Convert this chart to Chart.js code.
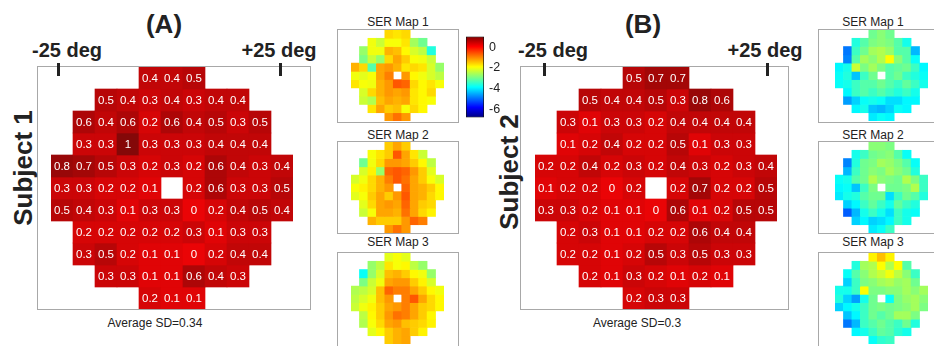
<!DOCTYPE html>
<html>
<head>
<meta charset="utf-8">
<script src="https://cdn.jsdelivr.net/npm/chart.js@4.4.0/dist/chart.umd.min.js"></script>
<style>
  body { margin: 0; width: 934px; height: 346px; overflow: hidden; position: relative; background: #fff;
         font-family: "Liberation Sans", Arial, sans-serif; color: #222; }
  canvas { position: absolute; }
  .frame { position: absolute; border: 1px solid #a8a8a8; box-sizing: border-box; }
  .tick { position: absolute; width: 3px; height: 13px; background: #222; }
  .txt { position: absolute; white-space: nowrap; line-height: 1; transform: translateX(-50%); }
  .big { font-weight: bold; font-size: 20px; }
  .panel { font-weight: bold; font-size: 26px; }
  .small { font-size: 12px; }
  .subj { position: absolute; white-space: nowrap; line-height: 1; font-weight: bold; font-size: 26px;
          transform: translate(-50%, -50%) rotate(-90deg); }
</style>
</head>
<body>

<div class="txt panel" style="left:164px;top:11px">(A)</div>
<div class="txt panel" style="left:643px;top:11px">(B)</div>

<div class="txt big" style="left:67px;top:40px">-25 deg</div>
<div class="txt big" style="left:279px;top:40px">+25 deg</div>
<div class="txt big" style="left:553px;top:40px">-25 deg</div>
<div class="txt big" style="left:765px;top:40px">+25 deg</div>

<div class="frame" style="left:37px;top:66px;width:274px;height:244px"></div>
<div class="frame" style="left:520px;top:66px;width:269px;height:244px"></div>

<div class="subj" style="left:23px;top:168px">Subject 1</div>
<div class="subj" style="left:509px;top:172px">Subject 2</div>

<div class="txt small" style="left:155px;top:317px">Average SD=0.34</div>
<div class="txt small" style="left:637px;top:317px">Average SD=0.3</div>

<div class="txt small" style="left:398px;top:16px">SER Map 1</div>
<div class="txt small" style="left:398px;top:129px">SER Map 2</div>
<div class="txt small" style="left:398px;top:236px">SER Map 3</div>
<div class="txt small" style="left:873px;top:16px">SER Map 1</div>
<div class="txt small" style="left:873px;top:129px">SER Map 2</div>
<div class="txt small" style="left:873px;top:236px">SER Map 3</div>

<div class="frame" style="left:337px;top:29px;width:122px;height:94px"></div>
<div class="frame" style="left:337px;top:141px;width:122px;height:93px"></div>
<div class="frame" style="left:337px;top:252px;width:122px;height:100px"></div>
<div class="frame" style="left:818px;top:29px;width:130px;height:94px"></div>
<div class="frame" style="left:818px;top:141px;width:130px;height:93px"></div>
<div class="frame" style="left:818px;top:252px;width:130px;height:100px"></div>

<canvas id="sd1" width="242" height="242" style="left:51px;top:67px"></canvas>
<canvas id="sd2" width="242" height="242" style="left:535px;top:67px"></canvas>
<canvas id="serA1" width="93" height="91" style="left:351px;top:30px"></canvas>
<canvas id="serA2" width="93" height="91" style="left:351px;top:142px"></canvas>
<canvas id="serA3" width="93" height="91" style="left:351px;top:253px"></canvas>
<canvas id="serB1" width="93" height="91" style="left:835px;top:30px"></canvas>
<canvas id="serB2" width="93" height="91" style="left:835px;top:142px"></canvas>
<canvas id="serB3" width="93" height="91" style="left:835px;top:253px"></canvas>
<canvas id="cbar" width="46" height="106" style="left:466px;top:24px"></canvas>

<div class="tick" style="left:57px;top:63px"></div>
<div class="tick" style="left:279px;top:63px"></div>
<div class="tick" style="left:543px;top:63px"></div>
<div class="tick" style="left:766px;top:63px"></div>

<script>
// grid columns and the first visible column of each row (the field is round)
const COLS = ['1', '2', '3', '4', '5', '6', '7', '8', '9', '10', '11'];
const ROW_START = [4, 2, 1, 1, 0, 0, 0, 1, 1, 2, 4];

// SD of the three SER maps, per test location
const SD_SUBJECT1 = [
  [0.4, 0.4, 0.5],
  [0.5, 0.4, 0.3, 0.4, 0.3, 0.4, 0.4],
  [0.6, 0.4, 0.6, 0.2, 0.6, 0.4, 0.5, 0.3, 0.5],
  [0.3, 0.3, 1, 0.3, 0.3, 0.3, 0.4, 0.4, 0.4],
  [0.8, 0.7, 0.5, 0.3, 0.2, 0.3, 0.2, 0.6, 0.4, 0.3, 0.4],
  [0.3, 0.3, 0.2, 0.2, 0.1, null, 0.2, 0.6, 0.3, 0.3, 0.5],
  [0.5, 0.4, 0.3, 0.1, 0.3, 0.3, 0, 0.2, 0.4, 0.5, 0.4],
  [0.2, 0.2, 0.2, 0.2, 0.2, 0.3, 0.1, 0.3, 0.3],
  [0.3, 0.5, 0.2, 0.1, 0.1, 0, 0.2, 0.4, 0.4],
  [0.3, 0.3, 0.1, 0.1, 0.6, 0.4, 0.3],
  [0.2, 0.1, 0.1]
];
const SD_SUBJECT2 = [
  [0.5, 0.7, 0.7],
  [0.5, 0.4, 0.4, 0.5, 0.3, 0.8, 0.6],
  [0.3, 0.1, 0.3, 0.3, 0.2, 0.4, 0.4, 0.4, 0.4],
  [0.1, 0.2, 0.4, 0.2, 0.2, 0.5, 0.1, 0.3, 0.3],
  [0.2, 0.2, 0.4, 0.2, 0.3, 0.2, 0.4, 0.3, 0.2, 0.3, 0.4],
  [0.1, 0.2, 0.2, 0, 0.2, null, 0.2, 0.7, 0.2, 0.2, 0.5],
  [0.3, 0.3, 0.2, 0.1, 0.1, 0, 0.6, 0.1, 0.2, 0.5, 0.5],
  [0.2, 0.3, 0.1, 0.1, 0.2, 0.2, 0.6, 0.4, 0.4],
  [0.2, 0.2, 0.1, 0.2, 0.5, 0.3, 0.5, 0.3, 0.3],
  [0.2, 0.1, 0.3, 0.2, 0.1, 0.2, 0.1],
  [0.2, 0.3, 0.3]
];

// SER maps (D)
const SER_A1 = [
  [-1.6, -1.7, -1.6],
  [-2.0, -2.3, -1.95, -1.95, -1.7, -2.6, -3.0],
  [-2.7, -2.0, -2.0, -1.3, -1.4, -1.85, -2.2, -2.4, -3.6],
  [-2.9, -2.3, -2.7, -1.6, -1.2, -1.5, -1.95, -2.0, -2.3],
  [-1.3, -1.6, -3.2, -1.2, -1.1, -1.3, -1.7, -1.6, -1.7, -2.2, -2.7],
  [-2.0, -2.1, -1.95, -1.2, -0.9, null, -1.1, -1.85, -2.0, -2.2, -2.4],
  [-1.7, -1.95, -2.0, -1.3, -1.1, -0.6, -0.7, -1.6, -1.85, -1.7, -1.95],
  [-2.2, -1.6, -1.3, -1.1, -1.2, -1.1, -1.7, -1.85, -1.6],
  [-2.3, -2.5, -1.4, -1.2, -1.3, -1.2, -1.7, -1.85, -1.95],
  [-1.7, -1.2, -1.5, -1.4, -1.95, -1.6, -1.85],
  [-1.1, -0.8, -1.1]
];
const SER_A2 = [
  [-1.5, -1.2, -1.5],
  [-1.95, -1.7, -1.5, -0.6, -1.2, -1.7, -2.3],
  [-3.0, -2.0, -1.6, -1.1, -1.1, -1.2, -1.5, -1.85, -2.4],
  [-2.2, -1.8, -2.7, -0.7, -0.6, -0.7, -1.1, -1.5, -2.1],
  [-2.2, -2.0, -1.6, -1.3, -0.9, -0.6, -0.8, -1.2, -1.5, -1.95, -2.2],
  [-1.95, -1.8, -1.6, -1.3, -1.1, null, -0.7, -1.2, -1.3, -1.5, -1.85],
  [-2.1, -1.95, -1.5, -1.2, -1.5, -1.1, -0.6, -1.2, -1.3, -1.6, -1.85],
  [-2.1, -1.6, -1.2, -1.1, -1.2, -0.7, -1.2, -1.5, -1.6],
  [-2.3, -1.95, -1.2, -1.2, -1.3, -0.8, -1.2, -1.6, -1.8],
  [-1.3, -1.5, -1.5, -1.5, -1.1, -0.7, -0.9],
  [-1.1, -0.8, -1.1]
];
const SER_A3 = [
  [-2.1, -1.95, -2.1],
  [-2.7, -2.4, -1.7, -1.95, -1.85, -2.4, -2.7],
  [-3.8, -2.7, -2.2, -1.4, -1.3, -1.5, -1.85, -2.0, -2.7],
  [-2.9, -2.3, -2.0, -1.2, -1.1, -1.1, -1.5, -1.8, -2.2],
  [-2.5, -2.4, -2.2, -1.4, -0.7, -0.9, -0.9, -1.2, -1.5, -1.85, -2.0],
  [-2.4, -2.2, -2.0, -1.4, -1.1, null, -0.9, -0.6, -1.2, -1.6, -1.85],
  [-2.3, -2.0, -1.8, -1.5, -1.2, -1.1, -0.9, -1.2, -1.5, -1.6, -1.85],
  [-2.4, -1.85, -1.5, -1.1, -0.8, -0.9, -1.2, -1.5, -1.85],
  [-2.5, -1.95, -1.6, -1.2, -1.1, -1.4, -1.5, -1.6, -1.8],
  [-2.1, -1.85, -1.5, -1.3, -1.2, -1.5, -1.8],
  [-1.5, -1.3, -1.2]
];
const SER_B1 = [
  [-3.0, -2.8, -3.0],
  [-3.6, -3.2, -2.9, -2.8, -2.9, -3.2, -3.7],
  [-4.9, -3.4, -3.0, -2.6, -2.5, -2.7, -3.2, -3.2, -4.4],
  [-4.8, -3.2, -2.6, -2.8, -2.5, -1.9, -2.8, -3.2, -3.8],
  [-3.9, -3.7, -2.3, -2.9, -2.6, -2.9, -3.2, -3.1, -3.0, -3.4, -3.9],
  [-3.8, -3.6, -4.3, -3.4, -3.0, null, -3.2, -3.0, -3.4, -3.6, -3.8],
  [-3.8, -3.7, -3.4, -3.2, -3.2, -3.0, -3.2, -3.4, -3.1, -3.4, -3.7],
  [-3.9, -3.4, -3.2, -3.4, -3.2, -3.4, -3.6, -3.4, -3.7],
  [-4.6, -4.2, -3.8, -3.7, -3.8, -4.1, -4.1, -3.9, -3.9],
  [-3.9, -3.7, -4.3, -4.4, -4.2, -3.8, -3.9],
  [-4.0, -3.8, -3.9]
];
const SER_B2 = [
  [-2.8, -2.8, -2.9],
  [-3.7, -3.4, -3.0, -2.9, -2.8, -3.2, -3.8],
  [-4.8, -3.6, -3.0, -2.9, -2.6, -2.7, -2.9, -3.2, -3.8],
  [-4.4, -3.4, -3.0, -2.8, -2.9, -2.6, -2.8, -3.0, -3.6],
  [-3.8, -3.7, -3.2, -3.0, -2.5, -2.8, -2.9, -3.0, -2.5, -2.9, -3.4],
  [-3.9, -3.8, -4.3, -3.4, -2.9, null, -3.0, -3.0, -2.9, -2.5, -3.4],
  [-4.0, -3.7, -3.6, -3.2, -3.0, -3.0, -4.1, -3.4, -3.0, -3.2, -3.6],
  [-4.2, -3.9, -3.4, -3.1, -3.4, -3.7, -3.1, -3.4, -3.6],
  [-5.1, -4.4, -3.7, -3.4, -3.7, -4.1, -3.4, -3.7, -3.8],
  [-4.2, -3.9, -4.2, -4.1, -3.9, -3.4, -3.7],
  [-4.0, -3.8, -3.4]
];
const SER_B3 = [
  [-1.8, -1.4, -1.8],
  [-3.6, -2.6, -2.5, -1.9, -2.5, -1.9, -3.2],
  [-3.8, -3.2, -2.8, -2.5, -2.3, -2.0, -2.4, -2.8, -3.4],
  [-4.2, -3.4, -2.9, -2.8, -2.6, -2.5, -2.7, -2.6, -3.0],
  [-3.7, -3.7, -3.4, -1.9, -2.9, -2.9, -2.8, -2.8, -2.6, -2.8, -2.6],
  [-3.6, -4.2, -4.6, -3.7, -3.0, null, -3.8, -2.9, -2.7, -2.6, -2.8],
  [-4.2, -3.9, -3.7, -3.4, -3.0, -2.9, -3.0, -2.9, -2.8, -2.6, -2.9],
  [-4.3, -3.9, -3.4, -3.0, -3.2, -3.0, -2.6, -2.6, -2.9],
  [-4.9, -4.4, -3.4, -3.2, -3.0, -3.2, -3.4, -3.0, -3.6],
  [-3.9, -3.7, -3.4, -3.1, -3.2, -3.5, -3.7],
  [-3.8, -3.5, -3.4]
];

// colour bar
const CMIN = -6.8, CMAX = 1.05;
const CB_TICKS = [-6, -4, -2, 0];

const FONT = '"Liberation Sans", Arial, sans-serif';

function jet(v) {
  const t = Math.min(1, Math.max(0, (v - CMIN) / (CMAX - CMIN)));
  const f = x => Math.round(255 * Math.min(1, Math.max(0, 1.5 - Math.abs(x))));
  return 'rgb(' + f(4 * t - 3) + ',' + f(4 * t - 2) + ',' + f(4 * t - 1) + ')';
}

function sdColor(v) {
  return 'rgb(' + Math.round(234 - 102 * v) + ',' + Math.round(4 + 4 * v) + ',' + Math.round(6 + 2 * v) + ')';
}

// white numbers in the SD cells
const cellText = {
  id: 'cellText',
  afterDatasetsDraw(chart) {
    const ctx = chart.ctx;
    ctx.save();
    ctx.fillStyle = '#fff';
    ctx.font = '11.5px ' + FONT;
    ctx.textAlign = 'center';
    ctx.textBaseline = 'middle';
    chart.data.datasets.forEach((ds, i) => {
      chart.getDatasetMeta(i).data.forEach((bar, c) => {
        const v = ds.values[c];
        if (v === null || v === undefined) return;
        const p = bar.getCenterPoint();
        ctx.fillText(String(v), p.x, p.y + 1);
      });
    });
    ctx.restore();
  }
};

function gridChart(id, rows, colorFn, withText) {
  const datasets = rows.map((vals, r) => {
    const data = [], colors = [], values = [];
    COLS.forEach((_, c) => {
      const k = c - ROW_START[r];
      const v = (k >= 0 && k < vals.length) ? vals[k] : null;
      values.push(v);
      data.push(v === null ? null : [r, r + 1]);
      colors.push(v === null ? 'rgba(0,0,0,0)' : colorFn(v));
    });
    return {
      data: data, values: values, backgroundColor: colors,
      borderWidth: 0, barPercentage: 1, categoryPercentage: 1, grouped: false
    };
  });
  return new Chart(document.getElementById(id), {
    type: 'bar',
    data: { labels: COLS, datasets: datasets },
    options: {
      responsive: false, animation: false, events: [],
      layout: { padding: 0 },
      plugins: { legend: { display: false }, tooltip: { enabled: false } },
      scales: {
        x: { display: false },
        y: { display: false, min: 0, max: rows.length, reverse: true }
      }
    },
    plugins: withText ? [cellText] : []
  });
}

gridChart('sd1', SD_SUBJECT1, sdColor, true);
gridChart('sd2', SD_SUBJECT2, sdColor, true);
gridChart('serA1', SER_A1, jet, false);
gridChart('serA2', SER_A2, jet, false);
gridChart('serA3', SER_A3, jet, false);
gridChart('serB1', SER_B1, jet, false);
gridChart('serB2', SER_B2, jet, false);
gridChart('serB3', SER_B3, jet, false);

new Chart(document.getElementById('cbar'), {
  type: 'bar',
  data: {
    labels: [''],
    datasets: [{
      data: [[CMIN, CMAX]],
      backgroundColor: function (c) {
        const area = c.chart.chartArea;
        if (!area) return '#888';
        const g = c.chart.ctx.createLinearGradient(0, area.bottom, 0, area.top);
        for (let i = 0; i <= 32; i++) {
          g.addColorStop(i / 32, jet(CMIN + (CMAX - CMIN) * i / 32));
        }
        return g;
      },
      borderColor: '#111', borderWidth: 1, borderSkipped: false,
      barPercentage: 1, categoryPercentage: 1
    }]
  },
  options: {
    responsive: false, animation: false, events: [],
    layout: { padding: { top: 6, bottom: 6, left: 0, right: 0 } },
    plugins: { legend: { display: false }, tooltip: { enabled: false } },
    scales: {
      x: { display: false },
      y: {
        position: 'right', min: CMIN, max: CMAX,
        afterBuildTicks: s => { s.ticks = CB_TICKS.map(v => ({ value: v })); },
        afterFit: s => { s.width = 28; },
        grid: { display: false, drawTicks: false },
        border: { display: false },
        ticks: { padding: 5, color: '#222', font: { size: 12.5, family: FONT } }
      }
    }
  }
});
</script>
</body>
</html>
